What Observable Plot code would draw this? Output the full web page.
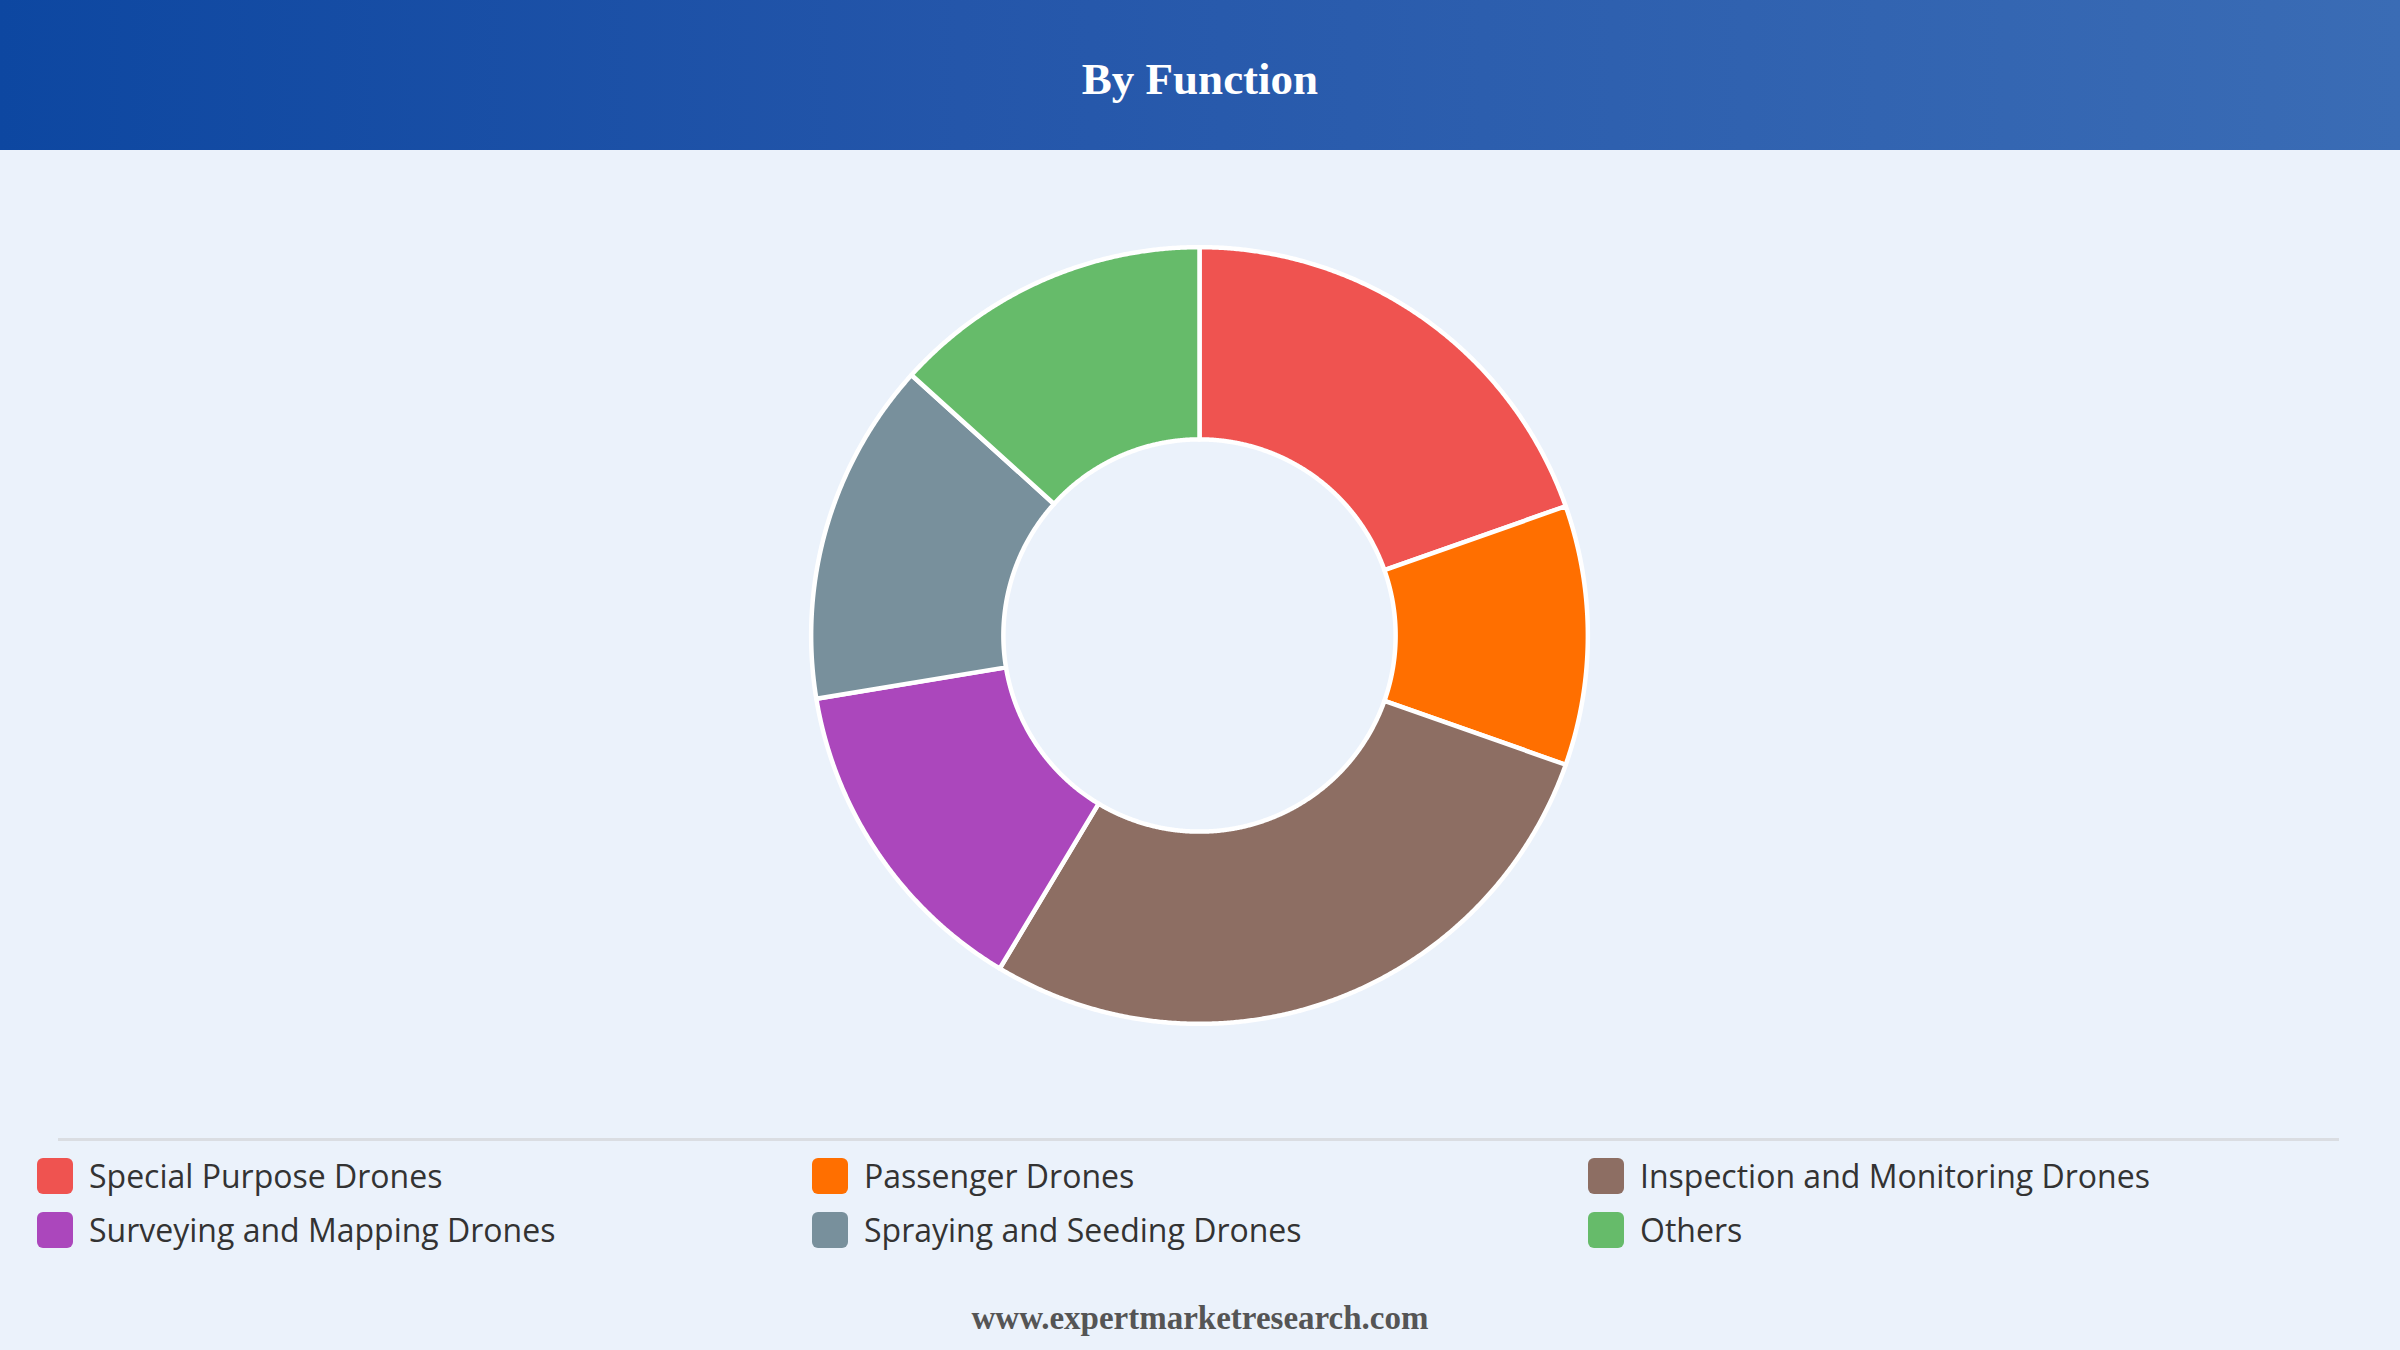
<!DOCTYPE html>
<html>
<head>
<meta charset="utf-8">
<script src="https://cdn.jsdelivr.net/npm/d3@7"></script>
<script src="https://cdn.jsdelivr.net/npm/@observablehq/plot@0.6"></script>
<style>
  html, body { margin: 0; padding: 0; }
  body { width: 2400px; height: 1350px; background: #EBF2FB; position: relative; overflow: hidden; }
  #header { position: absolute; left: 0; top: 0; width: 2400px; height: 150px;
    background: linear-gradient(90deg, #0D47A1 0%, #2456AA 40%, #3A6CB5 100%); }
  #header h1 { position: absolute; left: 0; width: 2400px; top: 52px; margin: 0; text-align: center; line-height: 54px;
    color: #fff; font-family: "Liberation Serif", "Times New Roman", serif; font-weight: bold; font-size: 45px; }
  #chart { position: absolute; left: 799px; top: 235px; width: 800px; height: 800px; }
  #sep { position: absolute; left: 58px; top: 1138px; width: 2281px; height: 3px; background: #DADDE2; }
  #legend { position: absolute; left: 37px; top: 1157px; width: 2330px; display: grid;
    grid-template-columns: 775px 776px 775px; row-gap: 17px; }
  .item { display: flex; align-items: center; height: 37px; font-family: "Open Sans", "Noto Sans", sans-serif; font-size: 32px; color: #333; }
  .sw { width: 36px; height: 36px; border-radius: 6px; margin-right: 16px; flex: none; }
  #footer { position: absolute; left: 0; top: 1300px; width: 2400px; text-align: center;
    font-family: "Liberation Serif", "Times New Roman", serif; font-weight: bold; font-size: 33px; color: #555; }
</style>
</head>
<body>
<div id="header"><h1>By Function</h1></div>
<div id="chart"></div>
<div id="sep"></div>
<div id="legend"></div>
<div id="footer">www.expertmarketresearch.com</div>
<script>
const categories = [
  "Special Purpose Drones",
  "Passenger Drones",
  "Inspection and Monitoring Drones",
  "Surveying and Mapping Drones",
  "Spraying and Seeding Drones",
  "Others"
];
const shares = [19.6, 10.8, 28.2, 13.8, 14.3, 13.3];
const colors = ["#EF5350", "#FF6F00", "#8D6E63", "#AB47BC", "#78909C", "#66BB6A"];

const innerRatio = 0.505;
const pie = d3.pie().sort(null).value(d => d.value);
const arcs = pie(categories.map((c, i) => ({ name: c, value: shares[i] })));

// build polygon vertices of each donut slice in unit coordinates
const pts = [];
arcs.forEach(a => {
  const n = Math.max(4, Math.ceil((a.endAngle - a.startAngle) / (Math.PI / 720)));
  for (let k = 0; k <= n; k++) {
    const t = a.startAngle + (a.endAngle - a.startAngle) * k / n;
    pts.push({ name: a.data.name, x: Math.sin(t), y: Math.cos(t) });
  }
  for (let k = n; k >= 0; k--) {
    const t = a.startAngle + (a.endAngle - a.startAngle) * k / n;
    pts.push({ name: a.data.name, x: innerRatio * Math.sin(t), y: innerRatio * Math.cos(t) });
  }
  pts.push({ name: a.data.name, x: Math.sin(a.startAngle), y: Math.cos(a.startAngle) });
});

const lim = 1.03;
const chart = Plot.plot({
  width: 800,
  height: 800,
  margin: 0,
  x: { domain: [-lim, lim], axis: null },
  y: { domain: [-lim, lim], axis: null },
  color: { domain: categories, range: colors },
  style: { background: "transparent", overflow: "visible" },
  marks: [
    Plot.line(pts, { x: "x", y: "y", z: "name", fill: "name", stroke: "white", strokeWidth: 4.5, strokeLinejoin: "round", curve: "linear" })
  ]
});
document.getElementById("chart").appendChild(chart);

const legend = document.getElementById("legend");
categories.forEach((c, i) => {
  const it = document.createElement("div");
  it.className = "item";
  const sw = document.createElement("span");
  sw.className = "sw";
  sw.style.background = colors[i];
  const tx = document.createElement("span");
  tx.textContent = c;
  it.appendChild(sw);
  it.appendChild(tx);
  legend.appendChild(it);
});
</script>
</body>
</html>
